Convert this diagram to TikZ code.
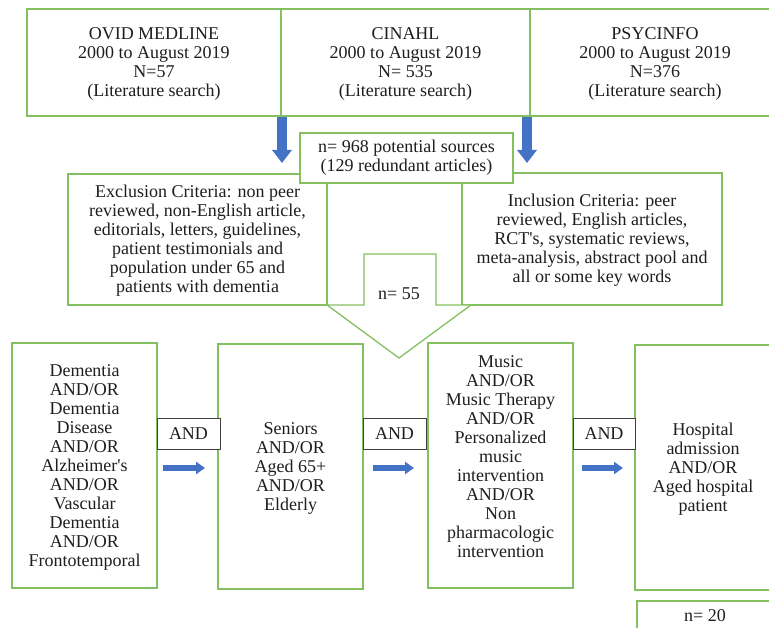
\documentclass[tikz,border=0pt]{standalone}
\usepackage{fontspec}
\setmainfont{Liberation Serif}
\newfontfamily\tnr{Liberation Serif}
\usetikzlibrary{arrows.meta}
\definecolor{gline}{RGB}{133,192,96}
\definecolor{barrow}{RGB}{68,114,196}
\definecolor{tcol}{RGB}{30,30,30}
\tikzset{
  gbox/.style={draw=gline, line width=1.3pt, fill=white, inner sep=0pt, text=tcol},
  andbox/.style={draw=black!75, line width=1pt, fill=white, inner sep=0pt, minimum width=63pt, minimum height=30pt, text=tcol},
  txt/.style={align=center, inner sep=0pt, text=tcol},
  downarr/.style={line width=10pt, barrow, -{Triangle[width=19pt,length=13pt]}},
  rightarr/.style={line width=6pt, barrow, -{Triangle[width=12pt,length=9pt]}},
  every node/.append style={font=\tnr\fontsize{18}{19}\selectfont}
}
\begin{document}
\begin{tikzpicture}[x=1pt,y=-1pt]
\useasboundingbox (0,0) rectangle (769,628);
% top row
\node[gbox, minimum width=254pt, minimum height=107pt] (med) at (154,62.5) {};
\node[gbox, minimum width=249pt, minimum height=107pt] (cin) at (405.5,62.5) {};
\node[gbox, minimum width=250pt, minimum height=107pt] (psy) at (655,62.5) {};
\node[txt] (medt) at (154,63.5) {OVID MEDLINE\\2000 to August 2019\\N=57\\(Literature search)};
\node[txt] (cint) at (405.5,63.5) {CINAHL\\2000 to August 2019\\N= 535\\(Literature search)};
\node[txt] (psyt) at (655,63.5) {PSYCINFO\\2000 to August 2019\\N=376\\(Literature search)};
% down arrows
\coordinate (d1s) at (282,117);
\coordinate (d1e) at (282,163);
\coordinate (d2s) at (527,117);
\coordinate (d2e) at (527,163);
\draw[downarr] (d1s) -- (d1e);
\draw[downarr] (d2s) -- (d2e);
% criteria boxes
\node[gbox, minimum width=259pt, minimum height=131pt] (excl) at (197.5,239.5) {};
\node[txt] (exclt) at (197.5,240.5) {Exclusion Criteria: non peer\\reviewed, non-English article,\\editorials, letters, guidelines,\\patient testimonials and\\population under 65 and\\patients with dementia};
\node[gbox, minimum width=260pt, minimum height=132pt] (incl) at (592,239) {};
\node[txt] (inclt) at (592,240.5) {Inclusion Criteria: peer\\reviewed, English articles,\\RCT's, systematic reviews,\\meta-analysis, abstract pool and\\all or some key words};
\node[gbox, minimum width=213pt, minimum height=50pt] (pool) at (406.5,158) {};
\node[txt] (poolt) at (406.5,158) {n= 968 potential sources\\(129 redundant articles)};
% big block arrow
\draw[gline, line width=1.3pt, fill=white, line join=miter]
  (327,305) -- (399,358) -- (471,305) -- (436,305) -- (436,254) -- (364,254) -- (364,305) -- cycle;
\node[txt] (n55) at (399,294) {n= 55};
% bottom row
\node[gbox, minimum width=145pt, minimum height=245pt] (b1) at (84.5,465.5) {};
\node[txt] (b1t) at (84.5,467) {Dementia\\AND/OR\\Dementia\\Disease\\AND/OR\\Alzheimer's\\AND/OR\\Vascular\\Dementia\\AND/OR\\Frontotemporal};
\node[gbox, minimum width=145pt, minimum height=245pt] (b2) at (290.5,466.5) {};
\node[txt] (b2t) at (290.5,468) {Seniors\\AND/OR\\Aged 65+\\AND/OR\\Elderly};
\node[gbox, minimum width=145pt, minimum height=245pt] (b3) at (500.5,465.5) {};
\node[txt] (b3t) at (500.5,457) {Music\\AND/OR\\Music Therapy\\AND/OR\\Personalized\\music\\intervention\\AND/OR\\Non\\pharmacologic\\intervention};
\node[gbox, minimum width=136pt, minimum height=245pt] (b4) at (703,467.5) {};
\node[txt] (b4t) at (703,469) {Hospital\\admission\\AND/OR\\Aged hospital\\patient};
\node[gbox, minimum width=136pt, minimum height=50pt] (n20) at (705,626) {};
\node[txt] (n20t) at (705,616) {n= 20};
% AND boxes
\node[andbox] (and1) at (188.5,434) {AND};
\node[andbox] (and2) at (394.5,434) {AND};
\node[andbox, minimum width=62pt] (and3) at (604,434) {AND};
% right arrows
\coordinate (r1s) at (163,468);
\coordinate (r1e) at (205,468);
\coordinate (r2s) at (373,468);
\coordinate (r2e) at (414,468);
\coordinate (r3s) at (582,468);
\coordinate (r3e) at (623,468);
\draw[rightarr] (r1s) -- (r1e);
\draw[rightarr] (r2s) -- (r2e);
\draw[rightarr] (r3s) -- (r3e);
\end{tikzpicture}
\end{document}
